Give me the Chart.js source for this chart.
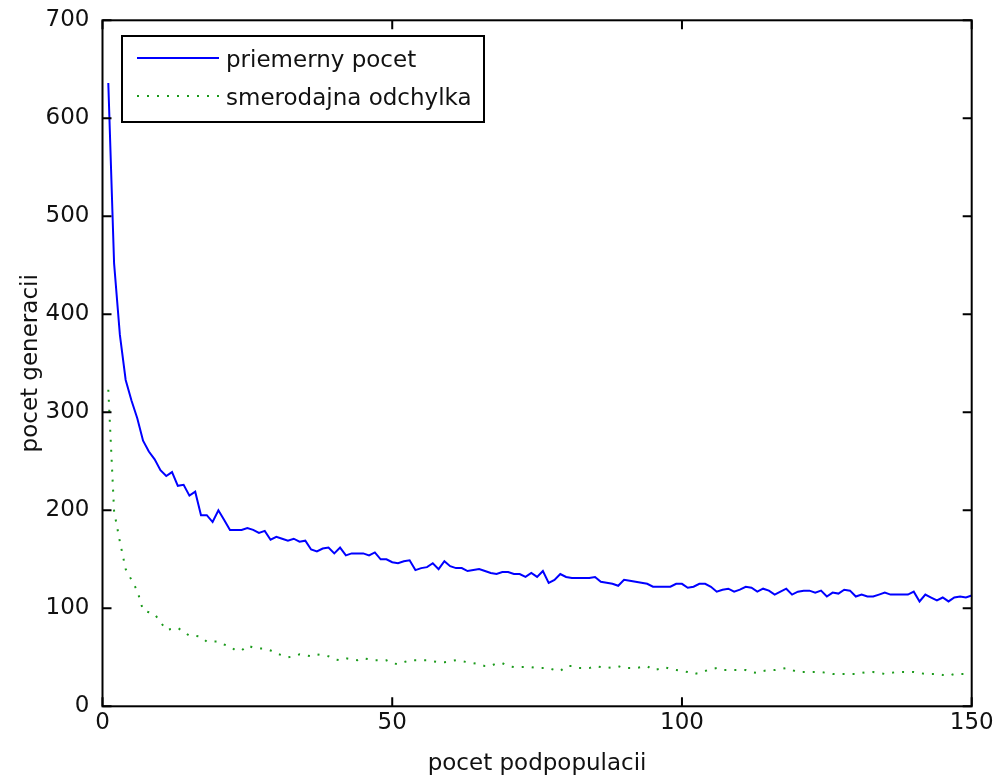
<!DOCTYPE html>
<html>
<head>
<meta charset="utf-8">
<title>pocet generacii</title>
<script src="https://cdn.jsdelivr.net/npm/chart.js@4.4.1/dist/chart.umd.min.js"></script>
<style>
  html, body { margin: 0; padding: 0; background: #fff; }
  #wrap { width: 994px; height: 778px; }
</style>
</head>
<body>
<div id="wrap"><canvas id="plot" width="994" height="778"></canvas></div>
<script>
// values, one per subpopulation count (1..150)
const meanGenerations = [
  636, 452, 379, 333, 312, 294, 271, 260, 252, 241,
  235, 239, 225, 226, 215, 219, 195, 195, 188, 200,
  190, 180, 180, 180, 182, 180, 177, 179, 170, 173,
  171, 169, 171, 168, 169, 160, 158, 161, 162, 156,
  162, 154, 156, 156, 156, 154, 157, 150, 150, 147,
  146, 148, 149, 139, 141, 142, 146, 140, 148, 143,
  141, 141, 138, 139, 140, 138, 136, 135, 137, 137,
  135, 135, 132, 136, 132, 138, 126, 129, 135, 132,
  131, 131, 131, 131, 132, 127, 126, 125, 123, 129,
  128, 127, 126, 125, 122, 122, 122, 122, 125, 125,
  121, 122, 125, 125, 122, 117, 119, 120, 117, 119,
  122, 121, 117, 120, 118, 114, 117, 120, 114, 117,
  118, 118, 116, 118, 112, 116, 115, 119, 118, 112,
  114, 112, 112, 114, 116, 114, 114, 114, 114, 117,
  107, 114, 111, 108, 111, 107, 111, 112, 111, 113
];

const stdDeviation = [
  323, 199, 168, 140, 129, 118, 98, 96, 94, 86,
  78, 79, 80, 76, 72, 72, 71, 66, 66, 66,
  63, 61, 57, 57, 62, 60, 59, 59, 57, 54,
  52, 50, 51, 53, 52, 51, 53, 52, 51, 48,
  47, 49, 48, 47, 49, 48, 47, 47, 47, 44,
  43, 45, 47, 47, 47, 47, 46, 45, 45, 46,
  47, 46, 45, 44, 43, 41, 41, 44, 44, 41,
  40, 40, 40, 40, 39, 39, 39, 37, 36, 41,
  41, 39, 39, 39, 41, 40, 39, 40, 41, 39,
  39, 39, 40, 41, 37, 38, 40, 38, 37, 36,
  35, 33, 34, 36, 38, 39, 37, 37, 37, 37,
  37, 35, 34, 36, 37, 37, 38, 39, 37, 35,
  35, 35, 35, 35, 34, 33, 33, 33, 33, 33,
  34, 35, 35, 34, 33, 34, 35, 35, 35, 35,
  34, 33, 33, 33, 32, 31, 33, 33, 33, 32
];

const seriesNames = ['priemerny pocet', 'smerodajna odchylka'];
const xTitle = 'pocet podpopulacii';
const yTitle = 'pocet generacii';

const FONT = "'DejaVu Sans', sans-serif";
const INK = '#111';
const GREEN_DOTS = [2, 8];

const toPoints = (vals) => vals.map((v, i) => ({ x: i + 1, y: v }));

// MATLAB style frame: full box with ticks pointing inward on all four sides
const matlabFrame = {
  id: 'matlabFrame',
  afterDatasetsDraw(chart) {
    const { ctx, chartArea: a, scales } = chart;
    const len = 9;
    ctx.save();
    ctx.strokeStyle = '#000';
    ctx.lineWidth = 2;
    ctx.strokeRect(a.left, a.top, a.right - a.left, a.bottom - a.top);
    ctx.beginPath();
    scales.x.ticks.forEach(t => {
      const px = scales.x.getPixelForValue(t.value);
      ctx.moveTo(px, a.bottom); ctx.lineTo(px, a.bottom - len);
      ctx.moveTo(px, a.top); ctx.lineTo(px, a.top + len);
    });
    scales.y.ticks.forEach(t => {
      const py = scales.y.getPixelForValue(t.value);
      ctx.moveTo(a.left, py); ctx.lineTo(a.left + len, py);
      ctx.moveTo(a.right, py); ctx.lineTo(a.right - len, py);
    });
    ctx.stroke();
    ctx.restore();
  },
  // boxed legend inside the top left corner, like MATLAB's
  afterDraw(chart) {
    const { ctx } = chart;
    const ds = chart.data.datasets;
    const box = { x: 122, y: 36, w: 362, h: 86 };
    ctx.save();
    ctx.fillStyle = '#fff';
    ctx.fillRect(box.x, box.y, box.w, box.h);
    ctx.strokeStyle = '#000';
    ctx.lineWidth = 2;
    ctx.strokeRect(box.x, box.y, box.w, box.h);
    ds.forEach((d, i) => {
      const ly = 58 + i * 38;
      ctx.strokeStyle = d.borderColor;
      ctx.lineWidth = d.borderWidth;
      ctx.setLineDash(d.borderDash || []);
      ctx.beginPath();
      ctx.moveTo(137, ly);
      ctx.lineTo(219, ly);
      ctx.stroke();
      ctx.setLineDash([]);
      ctx.fillStyle = INK;
      ctx.font = `23px ${FONT}`;
      ctx.textBaseline = 'middle';
      ctx.textAlign = 'left';
      ctx.fillText(d.label, 226, ly + 3);
    });
    ctx.restore();
  }
};

new Chart(document.getElementById('plot'), {
  type: 'line',
  data: {
    datasets: [
      {
        label: seriesNames[0],
        data: toPoints(meanGenerations),
        borderColor: '#0000ff',
        borderWidth: 2,
        pointRadius: 0,
        tension: 0
      },
      {
        label: seriesNames[1],
        data: toPoints(stdDeviation),
        borderColor: '#1b9a1b',
        borderWidth: 2,
        borderDash: GREEN_DOTS,
        pointRadius: 0,
        tension: 0
      }
    ]
  },
  options: {
    responsive: false,
    animation: false,
    devicePixelRatio: 1,
    layout: { padding: { left: 0, right: 22.3, top: 20.3, bottom: 0 } },
    plugins: {
      legend: { display: false },
      tooltip: { enabled: false }
    },
    scales: {
      x: {
        type: 'linear',
        min: 0,
        max: 150,
        // fixed height, and no extra room for the overhanging end labels
        afterFit: (s) => { s.height = 71.7; s.paddingLeft = 0; s.paddingRight = 0; },
        grid: { display: false, drawTicks: false },
        border: { display: false },
        ticks: { stepSize: 50, padding: 3, color: INK, font: { family: FONT, size: 23 } },
        title: { display: true, text: xTitle, color: INK, padding: 0, font: { family: FONT, size: 23 } }
      },
      y: {
        min: 0,
        max: 700,
        afterFit: (s) => { s.width = 102.5; s.paddingTop = 0; s.paddingBottom = 0; },
        grid: { display: false, drawTicks: false },
        border: { display: false },
        ticks: { stepSize: 100, padding: 13, color: INK, font: { family: FONT, size: 23 } },
        title: { display: true, text: yTitle, color: INK, padding: { top: 17 }, font: { family: FONT, size: 23 } }
      }
    }
  },
  plugins: [matlabFrame]
});
</script>
</body>
</html>
